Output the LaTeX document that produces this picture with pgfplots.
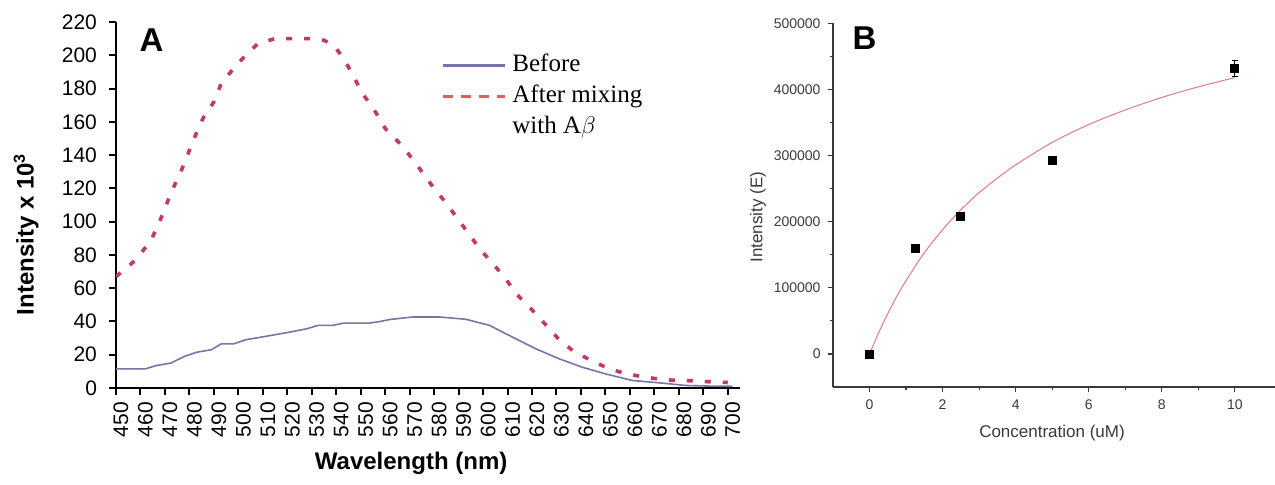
\documentclass[border=0pt]{standalone}
\usepackage{pgfplots}
\pgfplotsset{compat=1.18}
\usepackage{fontspec}
\setmainfont{Liberation Sans}
\newfontfamily\legfont{Liberation Serif}
\definecolor{befc}{HTML}{7675A8}
\definecolor{aftc}{HTML}{C2386B}
\definecolor{aftleg}{HTML}{D9605C}
\definecolor{fitc}{HTML}{E07A8A}
\definecolor{axgray}{HTML}{3A3A3A}

\pgfplotstableread{
wl int
450 11.5
462 11.5
466.5 13.5
472.5 15
478 19
483 21.5
489 23
493 26.5
498 26.5
503 29
511 31
521 33.6
528 35.6
532.5 37.6
538.5 37.6
543 39
553.5 39
558 40
562 41.2
571.5 42.7
582 42.7
593 41.3
602.5 37.7
612 30.6
621.5 23.6
631 17.6
640.5 12.5
650 8.5
661 4.5
672 3.1
683 1.5
694 1.1
702 1
}\before

\pgfplotstableread{
wl int
450 67
455 73
458 77
464 88
467 97
470 108
473 119
476.5 130
479.5 141
482.5 152
485.5 162
490 172
493 183
498 192
503 200
508 207
515 210
532 210
535 209
539 206
543.5 197
547.5 186
551 176.5
556 166
560 156
566 147
571 138
575.5 129
580 120
585 111
590 101
594.5 92
599 83
604.5 74
609.5 65
614 56
620 47
625 39
630.5 30
636.5 22.6
644 16.6
651.5 11.6
658.5 8.5
666.5 6.5
674 4.9
683 4.5
690 3.9
697 3.5
700 3.3
}\after

% points
\pgfplotstableread{
c I err
0 0 0
1.25 159800 0
2.5 207700 0
5 292400 0
10 432000 12500
}\binding

% fitted curve
\pgfplotstableread{
c I
0 0
0.25 32000
0.5 61000
0.75 87500
1 111000
1.5 153000
2 188000
2.5 218000
3 244000
3.5 266000
4 286000
5 320000
6 347000
7 369000
8 388000
9 404000
10 418000
}\fit

\begin{document}
\begin{tikzpicture}
\useasboundingbox (-58pt,-48.5pt) rectangle (579.5pt,194pt);

% ---- panel A
\begin{axis}[
  at={(0pt,0pt)}, anchor=south west,
  scale only axis, width=312pt, height=183pt,
  xmin=450, xmax=705, ymin=0, ymax=220,
  axis lines*=left, axis line style={line width=1pt},
  tick align=outside, major tick length=3.5pt,
  tick style={black,line width=1pt},
  xtick={450,460,...,700}, ytick={0,20,...,220},
  xticklabel style={rotate=90,anchor=east,yshift=-2.5pt},
  yticklabel style={xshift=-2.5pt},
  tick label style={font=\fontsize{10.5}{12}\selectfont},
  /pgf/number format/assume math mode=true,
  xlabel={\textbf{Wavelength (nm)}},
  ylabel={\textbf{Intensity x 10\textsuperscript{3}}},
  label style={font=\fontsize{12}{14}\selectfont},
  xlabel style={at={(axis description cs:0.473,-0.205)},anchor=center},
  ylabel style={at={(axis description cs:-0.144,0.42)},anchor=center},
  legend style={at={(axis cs:580.5,206)},anchor=north west,draw=none,fill=none,
    font=\legfont\fontsize{12.5}{14}\selectfont,column sep=1.5pt,
    nodes={text height=9.5pt,text depth=3.5pt,inner sep=1.25pt},
    legend cell align=left},
  legend image code/.code={\draw[#1] (0pt,0pt) -- (31pt,0pt);},
]
\addplot[befc,line width=0.8pt,forget plot] table[x=wl,y=int] {\before};
\addplot[aftc,line width=1.8pt,dash pattern=on 3pt off 6pt,forget plot] table[x=wl,y=int] {\after};
\addlegendimage{befc,line width=1.4pt}
\addlegendentry{Before}
\addlegendimage{aftleg,line width=1.6pt,dash pattern=on 5pt off 4pt}
\addlegendentry{After mixing}
\addlegendimage{empty legend}
\addlegendentry{with A$\beta$}
\node[font=\bfseries\fontsize{16.5}{18}\selectfont] at (axis cs:464.5,209) {A};
\end{axis}

% ---- panel B
\begin{axis}[
  at={(358.5pt,0.5pt)}, anchor=south west,
  scale only axis, width=221pt, height=181.8pt,
  xmin=-1, xmax=11.1, ymin=-50000, ymax=500000,
  axis lines*=left, axis line style={axgray,line width=0.6pt},
  tick align=outside, major tick length=2.7pt, minor tick length=1.5pt,
  tick style={axgray,line width=0.6pt},
  xtick={0,2,...,10}, minor xtick={1,3,5,7,9},
  ytick={0,100000,...,500000}, minor ytick={50000,150000,...,450000},
  scaled y ticks=false,
  yticklabel style={/pgf/number format/fixed,/pgf/number format/1000 sep={}},
  tick label style={font=\fontsize{7}{8}\selectfont,text=axgray},
  /pgf/number format/assume math mode=true,
  xlabel={Concentration (uM)}, ylabel={Intensity (E)},
  label style={font=\fontsize{8.5}{10}\selectfont,text=axgray},
  xlabel style={at={(axis description cs:0.4955,-0.1265)},anchor=center},
  ylabel style={at={(axis description cs:-0.17,0.4675)},anchor=center},
]
\addplot[fitc,line width=0.5pt,smooth] table[x=c,y=I] {\fit};
\addplot[only marks,mark=square*,mark size=2pt,black,
  error bars/.cd,y dir=both,y explicit,
  error bar style={black,line width=0.5pt},error mark options={rotate=90,mark size=1.5pt}]
  table[x=c,y=I,y error=err] {\binding};
\node[font=\bfseries\fontsize{16.5}{18}\selectfont] at (axis cs:-0.14,477800) {B};
\end{axis}
\end{tikzpicture}
\end{document}
